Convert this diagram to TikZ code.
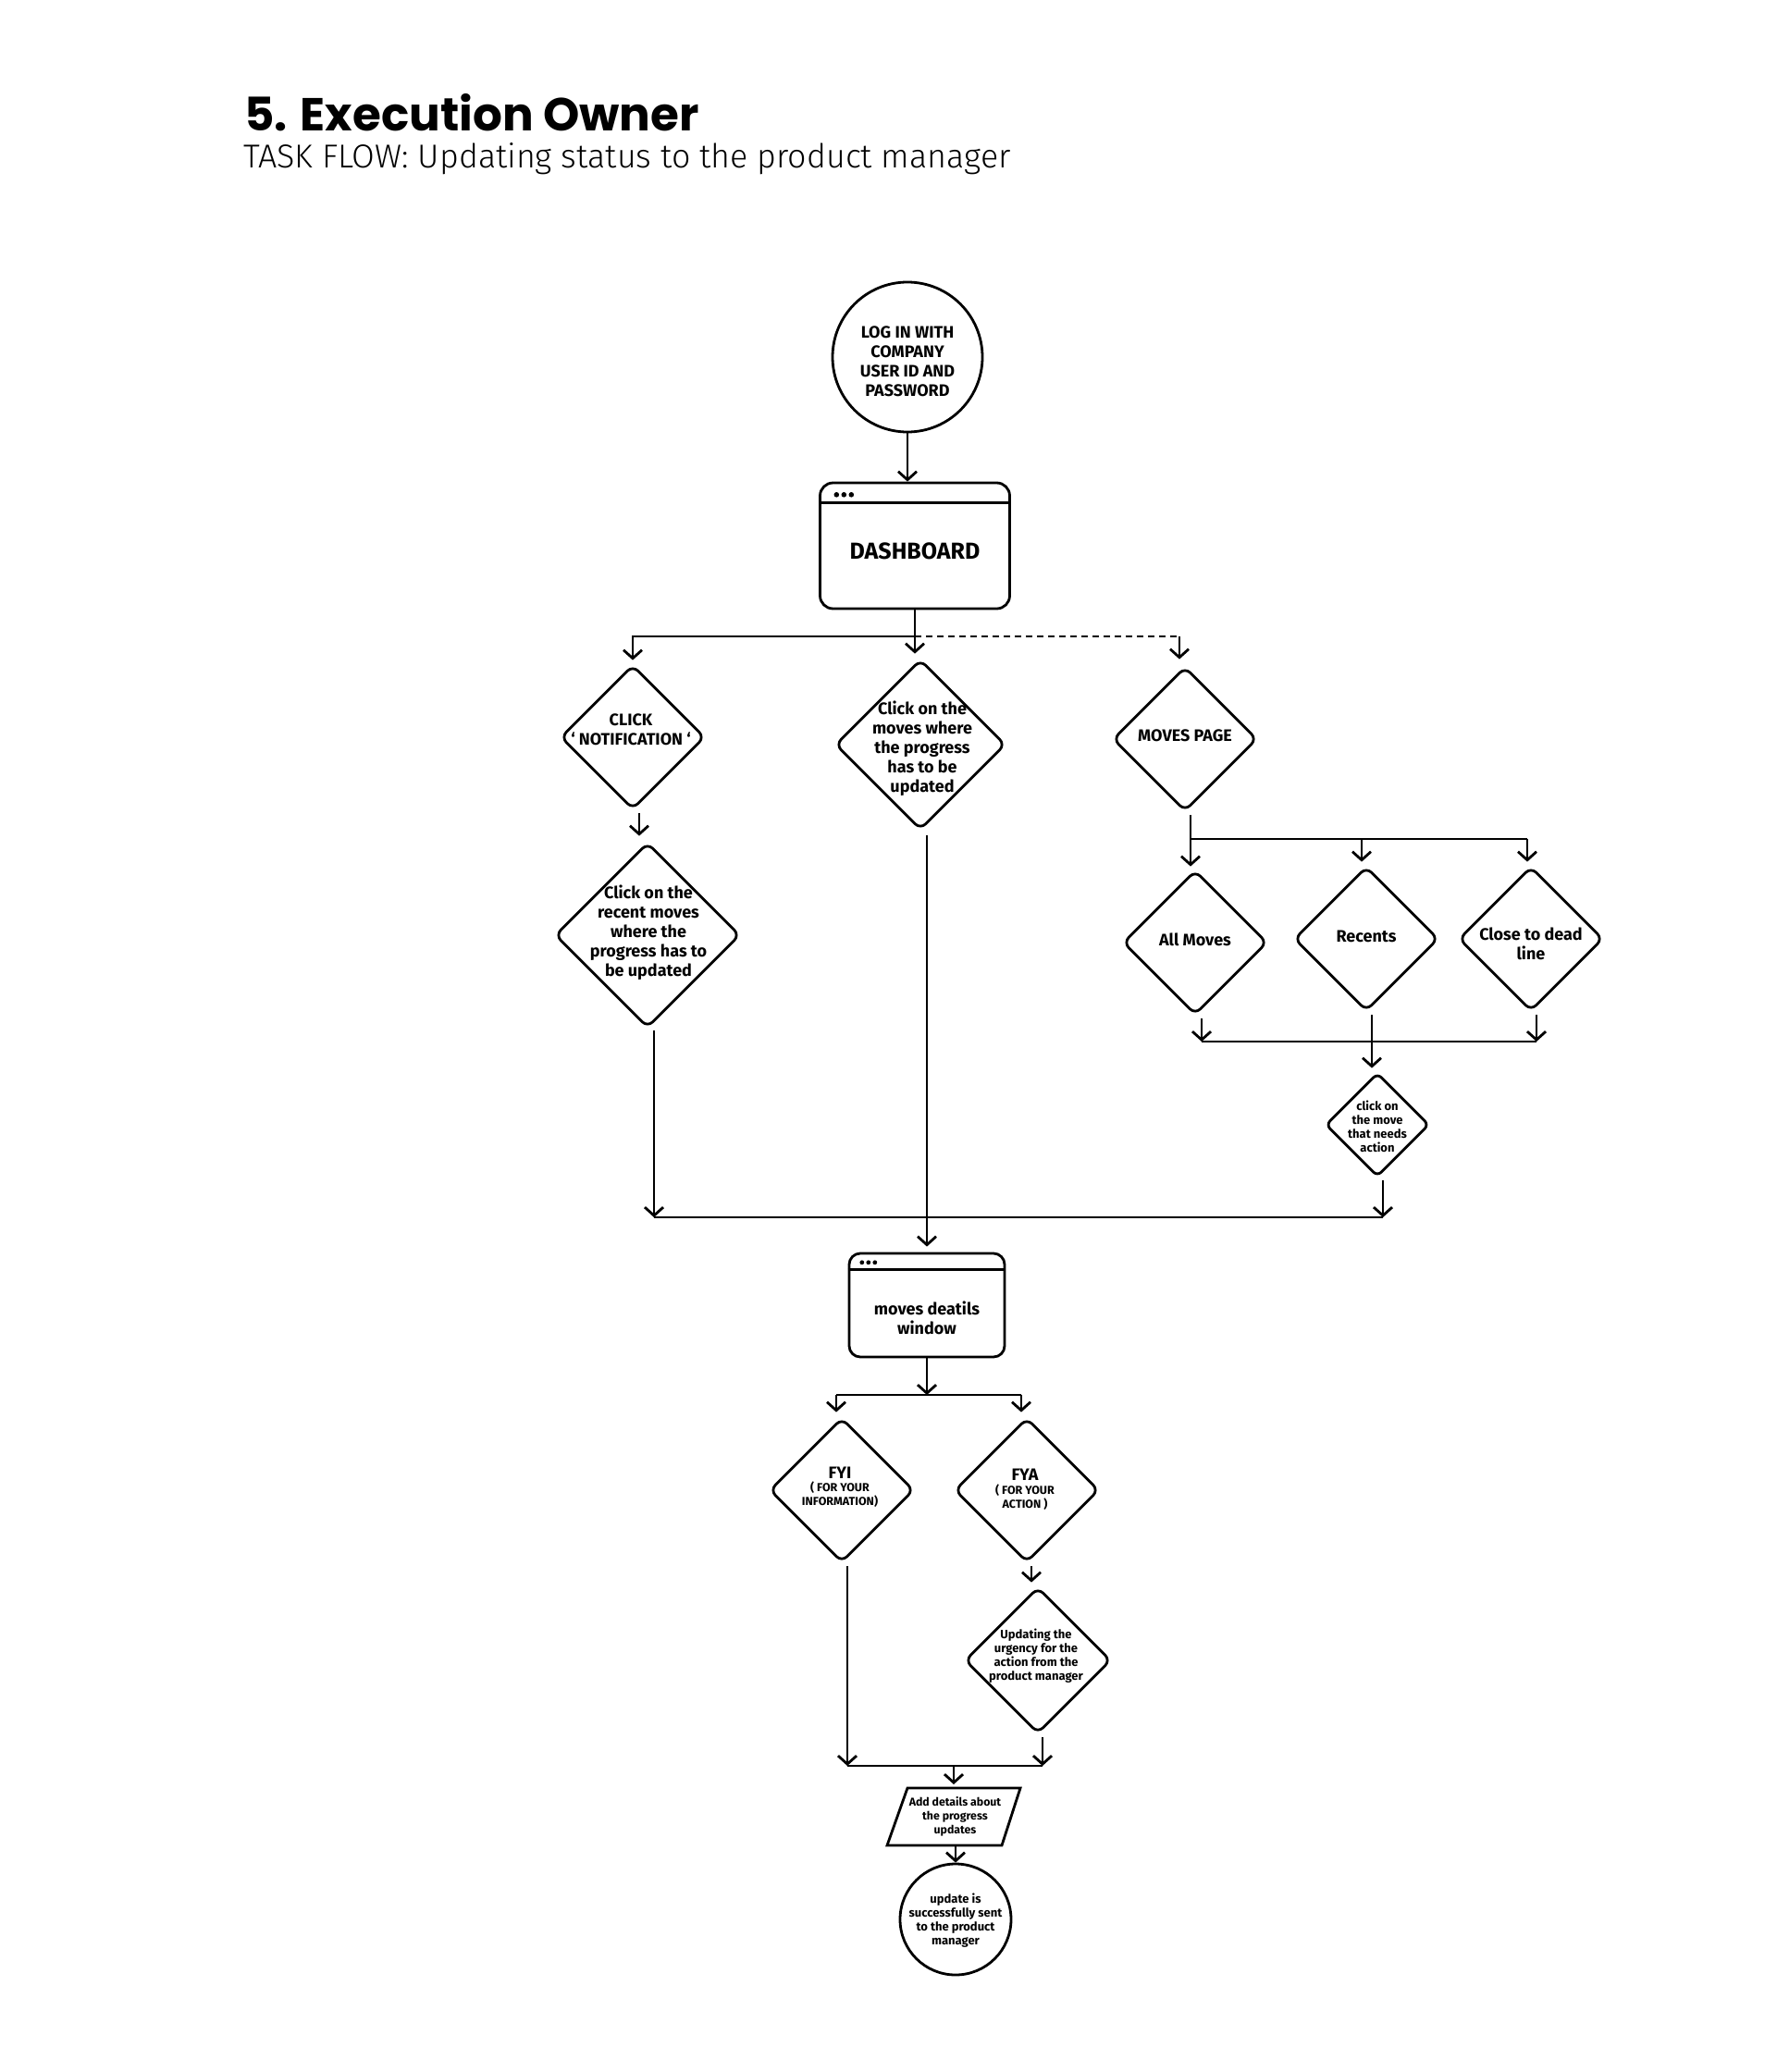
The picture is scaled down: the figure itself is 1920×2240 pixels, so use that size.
\documentclass[tikz,border=0pt]{standalone}
\usepackage{fontspec}
\setmainfont{Fira Sans}
\newfontfamily\titlefont{Poppins}
\newfontfamily\subfont{Fira Sans Light}
\usetikzlibrary{arrows.meta,shapes.geometric}
\begin{document}
\begin{tikzpicture}[x=1pt,y=-1pt,
  ln/.style={line width=2.8pt},
  arr/.style={ln,-{Straight Barb[length=9pt,width=20pt]}},
  dashedln/.style={ln,dash pattern=on 7pt off 5pt},
  dia/.style={shape=diamond,draw,ln,rounded corners=8pt,inner sep=0pt,aspect=1},
  win/.style={draw,ln,rounded corners=14pt,inner sep=0pt},
  circ/.style={circle,draw,ln,inner sep=0pt},
  txt/.style={align=center,inner sep=0pt,font=\bfseries\fontsize{18}{21}\selectfont},
  stxt/.style={align=center,inner sep=0pt,font=\bfseries\fontsize{13}{15}\selectfont},
  dot/.style={fill,circle,inner sep=0pt,minimum size=5.6pt}
]
\fill[white] (0,0) rectangle (1920,2240);
\useasboundingbox (0,0) rectangle (1920,2240);

% titles
\node[anchor=base west,inner sep=0pt,font=\titlefont\bfseries\fontsize{50}{55}\selectfont] (title) at (264,141) {5. Execution Owner};
\node[anchor=base west,inner sep=0pt,font=\subfont\fontsize{35.8}{40}\selectfont] (subtitle) at (263,181) {TASK FLOW: Updating status to the product manager};

% start
\node[circ,minimum size=162pt] (login) at (981,386) {};
\node[txt] (logint) at (981,391) {LOG IN WITH\\COMPANY\\USER ID AND\\PASSWORD};

% dashboard window
\node[win,minimum width=205pt,minimum height=136pt] (dash) at (989,590) {};
\draw[ln] ([yshift=-23.2pt]dash.north west) -- ([yshift=-23.2pt]dash.north east);
\foreach \i in {0,1,2}
  \node[dot] (dashdot\i) at ([xshift={19.2pt+8pt*\i},yshift=-14.2pt]dash.north west) {};
\node[txt,font=\bfseries\fontsize{25}{28}\selectfont] (dasht) at (989,596) {DASHBOARD};
\draw[arr] (login.south) -- (login.south |- dash.north);

% decision nodes, first row
\node[dia,minimum size=156pt] (notif) at (684,797) {};
\node[txt] (notift) at (682,789) {CLICK\\‘ NOTIFICATION ‘};
\node[dia,minimum size=184pt] (mid) at (995,805) {};
\node[txt] (midt) at (997,809) {Click on the\\moves where\\the progress\\has to be\\updated};
\node[dia,minimum size=156pt] (mp) at (1281,799) {};
\node[txt] (mpt) at (1281,795) {MOVES PAGE};

\node[dia,minimum size=200pt] (recent) at (700,1011) {};
\node[txt] (recentt) at (701,1008) {Click on the\\recent moves\\where the\\progress has to\\be updated};

\node[dia,minimum size=156pt] (am) at (1292,1019) {};
\node[txt] (amt) at (1292,1016) {All Moves};
\node[dia,minimum size=156pt] (rc) at (1477,1015) {};
\node[txt] (rct) at (1477,1012) {Recents};
\node[dia,minimum size=156pt] (cl) at (1655,1015) {};
\node[txt] (clt) at (1655,1020) {Close to dead\\line};

\node[dia,minimum size=112pt,rounded corners=6pt] (cm) at (1489,1216) {};
\node[stxt] (cmt) at (1489,1218) {click on\\the move\\that needs\\action};

% details window
\node[win,rounded corners=12pt,minimum width=168pt,minimum height=112pt] (det) at (1002,1411) {};
\draw[ln] ([yshift=-19.2pt]det.north west) -- ([yshift=-19.2pt]det.north east);
\foreach \i in {0,1,2}
  \node[dot,minimum size=4.8pt] (detdot\i) at ([xshift={15.2pt+7pt*\i},yshift=-11.2pt]det.north west) {};
\node[txt] (dett) at (1002,1425) {moves deatils\\window};

\node[dia,minimum size=156pt] (fyi) at (910,1611) {};
\node[txt] (fyit) at (908,1592) {FYI};
\node[stxt,font=\bfseries\fontsize{12.5}{15}\selectfont] (fyis) at (908,1616) {( FOR YOUR\\INFORMATION)};
\node[dia,minimum size=156pt] (fya) at (1110,1611) {};
\node[txt] (fyat) at (1108,1594) {FYA};
\node[stxt,font=\bfseries\fontsize{12.5}{15}\selectfont] (fyas) at (1108,1619) {( FOR YOUR\\ACTION )};

\node[dia,minimum size=158pt] (upd) at (1122,1795) {};
\node[stxt] (updt) at (1120,1790) {Updating the\\urgency for the\\action from the\\product manager};

\node[stxt,font=\bfseries\fontsize{12.3}{15}\selectfont,minimum width=144pt,minimum height=62pt,outer sep=0pt] (add) at (1031,1964) {\hspace*{3pt}Add details about\\\hspace*{3pt}the progress\\\hspace*{3pt}updates};
\draw[ln] (add.south west) -- ([xshift=22pt]add.north west) -- (add.north east) -- ([xshift=-20pt]add.south east) -- cycle;

\node[circ,minimum size=120pt] (fin) at (1033,2075) {};
\node[stxt] (fint) at (1033,2076) {update is\\successfully sent\\to the product\\manager};

% junction coordinates
\coordinate (bm) at (989,688);
\coordinate (mh) at (1287,907);
\coordinate (mhr) at (1651,907);
\coordinate (ah) at (1299,1126);
\coordinate (ahr) at (1661,1126);
\coordinate (jl) at (707,1316);
\coordinate (jr) at (1495,1316);
\coordinate (fl) at (904,1508);
\coordinate (fr) at (1104,1508);
\coordinate (gl) at (916,1909);
\coordinate (gr) at (1127,1909);

% dashboard branches
\draw[ln] (dash.south) -- (bm);
\draw[arr] (bm) -| ([yshift=4pt]notif.north);
\draw[arr] (bm) -- ([xshift=-6pt,yshift=5pt]mid.north);
\draw[dashedln] (bm) -- ([xshift=-6pt]mp.north |- bm);
\draw[arr] ([xshift=-6pt]mp.north |- bm) -- ([xshift=-6pt,yshift=7pt]mp.north);

% left column
\draw[arr] ([xshift=7pt,yshift=-3pt]notif.south) -- ([xshift=-9pt,yshift=6pt]recent.north);
\draw[arr] ([xshift=7pt,yshift=-2pt]recent.south) -- (jl);

% moves page branches
\draw[ln] ([xshift=6pt,yshift=-3pt]mp.south) -- (mh);
\draw[arr] (mh) -- ([xshift=-5pt,yshift=3pt]am.north);
\draw[ln] (mh) -- (mhr);
\draw[arr] ([xshift=-5pt]rc.north |- mh) -- ([xshift=-5pt,yshift=4pt]rc.north);
\draw[arr] (mhr) -- ([xshift=-4pt,yshift=4pt]cl.north);
\draw[arr] ([xshift=7pt,yshift=-3pt]am.south) -- (ah);
\draw[arr] ([xshift=6pt,yshift=-3pt]cl.south) -- (ahr);
\draw[ln] (ah) -- (ahr);
\draw[arr] ([xshift=6pt,yshift=-3pt]rc.south) -- ([xshift=-6pt,yshift=4pt]cm.north);
\draw[arr] ([xshift=6pt,yshift=-3pt]cm.south) -- (jr);

% merge to details
\draw[ln] (jl) -- (jr);
\draw[arr] ([xshift=7pt,yshift=-5pt]mid.south) -- ([yshift=6pt]det.north);

% details branches
\draw[arr] (det.south) -- (det.south |- fl);
\draw[ln] (fl) -- (fr);
\draw[arr] (fl) -- ([xshift=-6pt,yshift=5pt]fyi.north);
\draw[arr] (fr) -- ([xshift=-6pt,yshift=5pt]fya.north);
\draw[arr] ([xshift=6pt,yshift=-3pt]fyi.south) -- (gl);
\draw[arr] ([xshift=5pt,yshift=-3pt]fya.south) -- ([xshift=-7pt,yshift=4pt]upd.north);
\draw[arr] ([xshift=5pt,yshift=-3pt]upd.south) -- (gr);
\draw[ln] (gl) -- (gr);
\draw[arr] (add.north |- gl) -- ([yshift=4pt]add.north);
\draw[arr] ([xshift=2pt]add.south) -- ([xshift=2pt]add.south |- fin.north);
\end{tikzpicture}
\end{document}
